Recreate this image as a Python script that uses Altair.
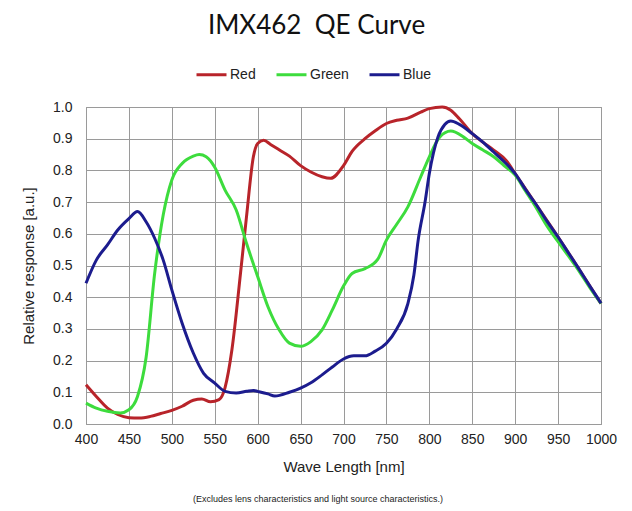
import altair as alt
import pandas as pd

series_names = ["Red", "Green", "Blue"]
series_colors = ["#b8242a", "#3ddc3d", "#1c1c8e"]

red_wl = [400, 412, 425, 437, 450, 462, 475, 487, 500, 512, 525, 535, 545, 555, 562, 570, 580, 587, 595, 600, 607, 615, 625, 637, 650, 662, 675, 685, 700, 710, 725, 737, 750, 762, 775, 790, 800, 815, 825, 835, 850, 862, 875, 890, 900, 925, 950, 975, 1000]
red_val = [0.124, 0.087, 0.05, 0.03, 0.02, 0.019, 0.024, 0.033, 0.043, 0.056, 0.075, 0.079, 0.07, 0.077, 0.115, 0.234, 0.475, 0.654, 0.843, 0.885, 0.895, 0.882, 0.865, 0.845, 0.815, 0.795, 0.78, 0.775, 0.815, 0.86, 0.9, 0.925, 0.948, 0.958, 0.965, 0.984, 0.995, 1.0, 0.99, 0.963, 0.916, 0.89, 0.864, 0.83, 0.79, 0.69, 0.59, 0.486, 0.38]

green_wl = [400, 412, 425, 440, 450, 460, 470, 480, 490, 500, 512, 525, 532, 540, 550, 562, 575, 587, 600, 612, 625, 637, 650, 662, 675, 687, 700, 710, 725, 740, 750, 762, 775, 790, 800, 812, 825, 840, 850, 862, 875, 887, 900, 912, 925, 937, 950, 962, 975, 987, 1000]
green_val = [0.066, 0.05, 0.04, 0.035, 0.045, 0.087, 0.21, 0.475, 0.66, 0.77, 0.822, 0.845, 0.85, 0.843, 0.81, 0.738, 0.675, 0.57, 0.465, 0.37, 0.297, 0.255, 0.245, 0.26, 0.297, 0.36, 0.435, 0.475, 0.49, 0.52, 0.58, 0.63, 0.685, 0.78, 0.843, 0.905, 0.924, 0.905, 0.885, 0.865, 0.843, 0.815, 0.785, 0.735, 0.68, 0.625, 0.575, 0.53, 0.48, 0.43, 0.38]

blue_wl = [400, 412, 425, 437, 450, 460, 470, 480, 490, 500, 512, 525, 537, 550, 562, 575, 587, 595, 600, 612, 620, 637, 650, 662, 675, 687, 700, 712, 725, 737, 750, 762, 775, 782, 787, 795, 800, 810, 818, 825, 835, 850, 862, 875, 887, 900, 912, 925, 937, 950, 962, 975, 987, 1000]
blue_val = [0.444, 0.517, 0.565, 0.612, 0.648, 0.67, 0.638, 0.586, 0.517, 0.423, 0.318, 0.224, 0.16, 0.129, 0.103, 0.098, 0.103, 0.106, 0.103, 0.095, 0.088, 0.1, 0.113, 0.13, 0.155, 0.18, 0.205, 0.215, 0.215, 0.23, 0.255, 0.3, 0.38, 0.47, 0.58, 0.7, 0.79, 0.905, 0.945, 0.956, 0.945, 0.916, 0.89, 0.858, 0.828, 0.79, 0.74, 0.69, 0.64, 0.59, 0.54, 0.486, 0.435, 0.381]

x_ticks = list(range(400, 1001, 50))
y_ticks = [i / 10 for i in range(0, 11)]
title_text = "IMX462\u00a0 QE Curve"
footnote = "(Excludes lens characteristics and light source characteristics.)"

rows = []
for name, wl, val in [("Red", red_wl, red_val), ("Green", green_wl, green_val), ("Blue", blue_wl, blue_val)]:
    for i, (w, v) in enumerate(zip(wl, val)):
        rows.append({"series": name, "wl": w, "val": v, "order": i})
df = pd.DataFrame(rows)

lines = alt.Chart(df).mark_line(strokeWidth=3, interpolate="monotone").encode(
    x=alt.X("wl:Q", scale=alt.Scale(domain=[400, 1000], nice=False),
            axis=alt.Axis(values=x_ticks, title="Wave Length [nm]", format="d",
                          labelFontSize=14, titleFontSize=15, labelPadding=8,
                          titlePadding=13, ticks=False, domain=False,
                          labelColor="#222", titleColor="#222",
                          titleFontWeight="normal", labelFlush=False,
                          gridColor="#9a9a9a", gridWidth=1)),
    y=alt.Y("val:Q", scale=alt.Scale(domain=[0, 1], nice=False),
            axis=alt.Axis(values=y_ticks, title="Relative response [a.u.]", format=".1f",
                          labelFontSize=14, titleFontSize=15, labelPadding=14,
                          titlePadding=16, ticks=False, domain=False,
                          labelColor="#222", titleColor="#222",
                          titleFontWeight="normal",
                          gridColor="#9a9a9a", gridWidth=1)),
    color=alt.Color("series:N",
                    scale=alt.Scale(domain=series_names, range=series_colors),
                    sort=series_names,
                    legend=alt.Legend(title=None, orient="none", direction="horizontal",
                                      legendX=109, legendY=-49, symbolType="stroke",
                                      symbolSize=900, symbolStrokeWidth=3,
                                      labelFontSize=14, labelColor="#222",
                                      labelOffset=2, columnPadding=14)),
    detail="series:N",
    order="order:Q",
)

note = alt.Chart(pd.DataFrame({"t": [footnote]})).mark_text(
    fontSize=9, color="#222", align="center", baseline="middle"
).encode(text="t:N", x=alt.value(232), y=alt.value(392))

chart = alt.layer(lines, note).properties(
    width=515, height=317,
    title=alt.Title(title_text, fontSize=26, font="Lato", fontWeight="normal",
                    color="#111", anchor="middle", dx=-27, offset=19),
    autosize=alt.AutoSizeParams(type="none"),
    padding={"left": 78, "top": 99, "right": 20, "bottom": 80},
).configure(font="Liberation Sans").configure_view(stroke="#8a8a8a", strokeWidth=1)

chart.save("out.html", embed_options={"renderer": "svg", "actions": False})
